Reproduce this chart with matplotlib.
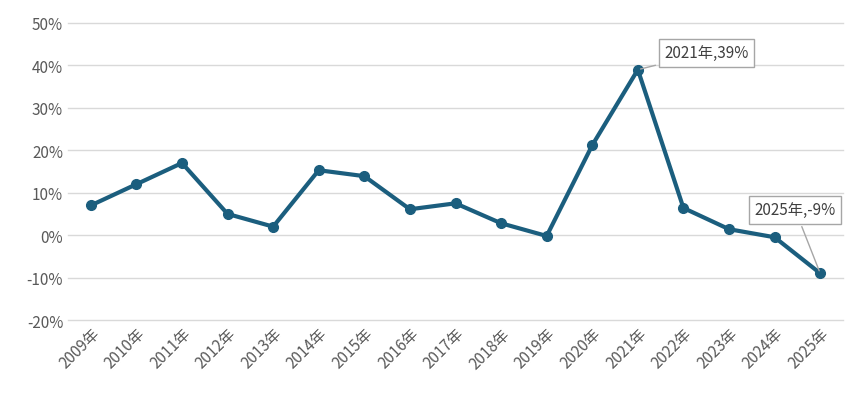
import matplotlib
matplotlib.use("Agg")
import matplotlib.pyplot as plt

years = [f"{y}年" for y in range(2009, 2026)]
values = [7, 12, 17, 5, 2, 15.3, 13.9, 6.1, 7.5, 2.8, -0.2, 21.2, 39, 6.4, 1.4, -0.5, -9]
yticks = [-20, -10, 0, 10, 20, 30, 40, 50]

plt.rcParams['font.family'] = ['Noto Sans CJK SC', 'DejaVu Sans']
fig = plt.figure(figsize=(8.67, 4.06), dpi=100)
ax = fig.add_axes([68/867, 1-321/406, 775/867, 297/406])
x = list(range(len(years)))
color = '#1b5e7e'
ax.plot(x, values, color=color, lw=3, marker='o', ms=7, zorder=3)
ax.set_xlim(-0.5, len(years)-0.5)
ax.set_ylim(-20, 50)
ax.set_yticks(yticks)
ax.set_yticklabels([f"{v}%" for v in yticks], color='#595959', fontsize=11)
ax.set_xticks(x)
ax.set_xticklabels(years, rotation=45, ha='right', rotation_mode='anchor', color='#595959', fontsize=11)
for v in yticks:
    ax.axhline(v, color='#d9d9d9', lw=1, zorder=1, clip_on=False)
ax.tick_params(length=0)
for s in ax.spines.values():
    s.set_visible(False)

box = dict(boxstyle='square,pad=0.35', fc='white', ec='#a6a6a6')
ax.annotate("2021年,39%", xy=(12, 39), xytext=(13.5, 43), fontsize=11, color='#404040',
            ha='center', va='center', bbox=box,
            arrowprops=dict(arrowstyle='-', color='#a6a6a6', lw=1))
ax.annotate("2025年,-9%", xy=(16, -9), xytext=(15.45, 6), fontsize=11, color='#404040',
            ha='center', va='center', bbox=box,
            arrowprops=dict(arrowstyle='-', color='#a6a6a6', lw=1))
fig.savefig("out.png", dpi=100)
